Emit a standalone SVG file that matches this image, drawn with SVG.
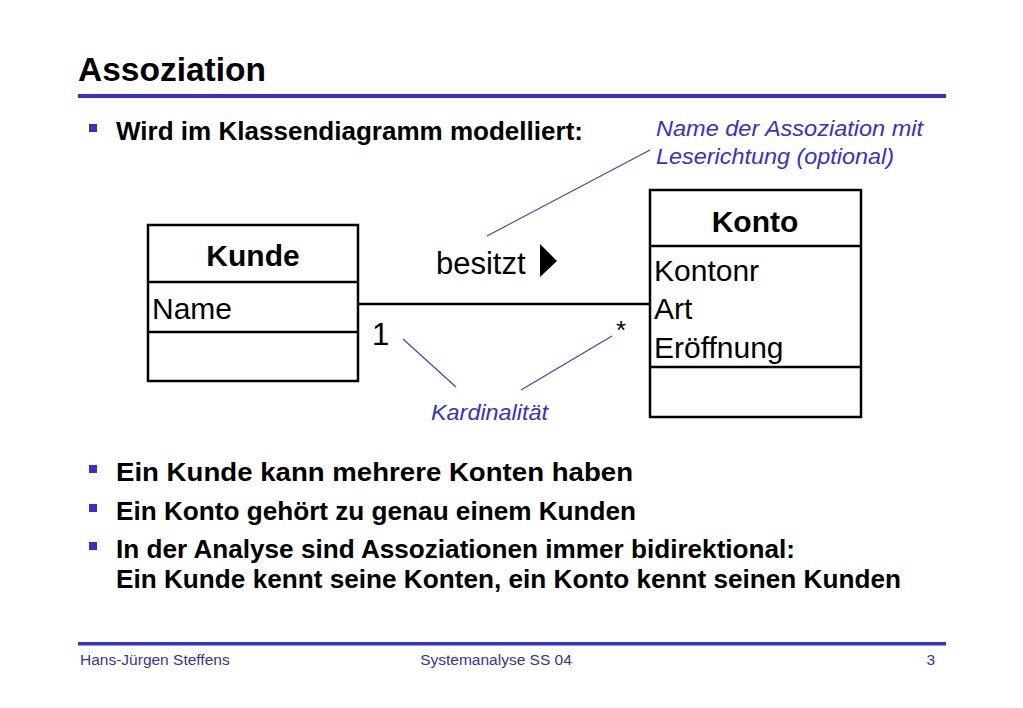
<svg xmlns="http://www.w3.org/2000/svg" width="1023" height="708" viewBox="0 0 1023 708">
<style>
text{font-family:"Liberation Sans",Arial,Helvetica,sans-serif;fill:#000}
.b{font-weight:bold}
.note{font-style:italic;fill:#3333cc;font-size:22px}
.cls{fill:#fff;stroke:#000;stroke-width:2.5}
.div{stroke:#000;stroke-width:2.5}
.lead{stroke:#4040cc;stroke-width:1.2;fill:none}
.bul{fill:#3333cc}
.ft{font-size:15.5px;fill:#3333aa}
</style>
<rect width="1023" height="708" fill="#fff"/>
<text x="78" y="81" class="b" font-size="33" textLength="188" lengthAdjust="spacingAndGlyphs">Assoziation</text>
<rect x="78" y="94" width="868" height="4" fill="#3333cc"/>
<rect class="bul" x="89" y="124" width="8" height="8"/>
<text x="116" y="140" class="b" font-size="26" textLength="467" lengthAdjust="spacingAndGlyphs">Wird im Klassendiagramm modelliert:</text>
<text x="656" y="136" class="note" textLength="267" lengthAdjust="spacingAndGlyphs">Name der Assoziation mit</text>
<text x="656" y="164" class="note" textLength="238" lengthAdjust="spacingAndGlyphs">Leserichtung (optional)</text>
<g id="connectors">
<line x1="358" y1="304" x2="650" y2="304" stroke="#000" stroke-width="2.5"/>
<line class="lead" x1="650" y1="150" x2="487" y2="236"/>
<line class="lead" x1="403" y1="339" x2="456" y2="387"/>
<line class="lead" x1="612" y1="336" x2="521" y2="390"/>
</g>
<g id="assoc-label">
<text x="436" y="274" font-size="31">besitzt</text>
<polygon points="540,244 557,261 540,277" fill="#000"/>
<text x="372" y="345" font-size="31">1</text>
<text x="616" y="339" font-size="26">*</text>
</g>
<g id="kunde">
<rect class="cls" x="148" y="225" width="210" height="156"/>
<line class="div" x1="148" y1="282" x2="358" y2="282"/>
<line class="div" x1="148" y1="332" x2="358" y2="332"/>
<text x="253" y="266" class="b" font-size="30" text-anchor="middle">Kunde</text>
<text x="152" y="319" font-size="30">Name</text>
</g>
<g id="konto">
<rect class="cls" x="650" y="190" width="211" height="227"/>
<line class="div" x1="650" y1="246" x2="861" y2="246"/>
<line class="div" x1="650" y1="367" x2="861" y2="367"/>
<text x="755" y="232" class="b" font-size="30" text-anchor="middle">Konto</text>
<text x="654" y="281" font-size="30">Kontonr</text>
<text x="654" y="319" font-size="30">Art</text>
<text x="654" y="358" font-size="30">Eröffnung</text>
</g>
<text x="431" y="420" class="note" textLength="117" lengthAdjust="spacingAndGlyphs">Kardinalität</text>
<rect class="bul" x="89" y="465" width="8" height="8"/>
<text x="116" y="481" class="b" font-size="26" textLength="517" lengthAdjust="spacingAndGlyphs">Ein Kunde kann mehrere Konten haben</text>
<rect class="bul" x="89" y="504" width="8" height="8"/>
<text x="116" y="520" class="b" font-size="26" textLength="520" lengthAdjust="spacingAndGlyphs">Ein Konto gehört zu genau einem Kunden</text>
<rect class="bul" x="89" y="542" width="8" height="8"/>
<text x="116" y="558" class="b" font-size="26" textLength="679" lengthAdjust="spacingAndGlyphs">In der Analyse sind Assoziationen immer bidirektional:</text>
<text x="116" y="588" class="b" font-size="26" textLength="785" lengthAdjust="spacingAndGlyphs">Ein Kunde kennt seine Konten, ein Konto kennt seinen Kunden</text>
<rect x="78" y="642" width="868" height="3.5" fill="#3333cc"/>
<text x="80" y="665" class="ft">Hans-Jürgen Steffens</text>
<text x="496" y="665" class="ft" text-anchor="middle">Systemanalyse SS 04</text>
<text x="935" y="665" class="ft" text-anchor="end">3</text>
</svg>
